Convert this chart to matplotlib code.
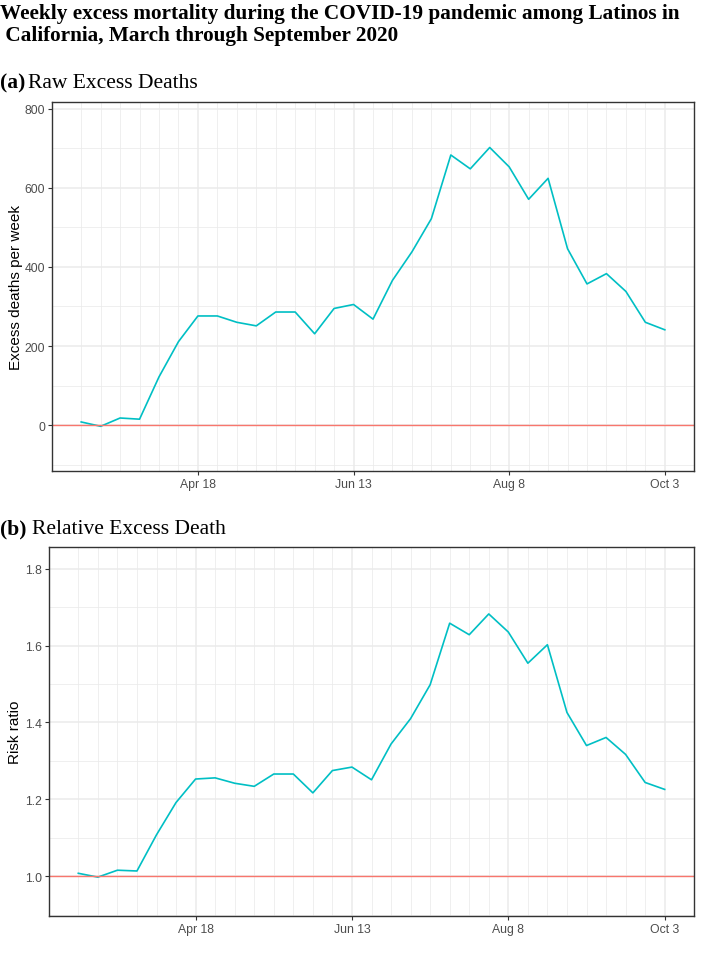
import matplotlib
matplotlib.use("Agg")
import matplotlib.pyplot as plt
import matplotlib.dates as mdates
import numpy as np
import datetime as dt

# ---- data ----
start = dt.date(2020, 3, 7)
weeks = [start + dt.timedelta(days=7 * i) for i in range(31)]

excess_deaths = [8, -3, 18, 15, 122, 211, 276, 276, 260, 251, 286, 286, 231, 295, 305,
                 268, 366, 438, 522, 683, 648, 702, 653, 571, 624, 446, 357, 383, 338, 260, 241]
risk_ratio = [1.008, 0.998, 1.016, 1.014, 1.108, 1.192, 1.253, 1.256, 1.242, 1.234, 1.266,
              1.266, 1.217, 1.275, 1.284, 1.251, 1.344, 1.410, 1.498, 1.658, 1.628, 1.682,
              1.635, 1.554, 1.602, 1.426, 1.340, 1.361, 1.317, 1.244, 1.226]

tick_dates = [dt.date(2020, 4, 18), dt.date(2020, 6, 13), dt.date(2020, 8, 8), dt.date(2020, 10, 3)]
tick_labels = ["Apr 18", "Jun 13", "Aug 8", "Oct 3"]

title_text = ("Weekly excess mortality during the COVID-19 pandemic among Latinos in\n"
              " California, March through September 2020")

W, H = 703, 962
fig = plt.figure(figsize=(W / 100, H / 100), dpi=100)

LINE_C = "#00BFC4"
REF_C = "#F8766D"

def ax_rect(l, t, r, b):
    return [l / W, 1 - b / H, (r - l) / W, (b - t) / H]

def style(ax, ylab, yticks, ylim, yfmt, labelpad):
    x0 = mdates.date2num(weeks[0]); x1 = mdates.date2num(weeks[-1])
    pad = (x1 - x0) * 0.05
    ax.set_xticks([mdates.date2num(d) for d in tick_dates])
    ax.set_xticklabels(tick_labels)
    ax.set_xticks([mdates.date2num(d) for d in weeks], minor=True)
    ax.set_yticks(yticks)
    ax.set_yticklabels([yfmt(v) for v in yticks])
    ystep = yticks[1] - yticks[0]
    minor_y = [yticks[0] - ystep / 2] + [v + ystep / 2 for v in yticks]
    ax.set_yticks(minor_y, minor=True)
    ax.set_xlim(x0 - pad, x1 + pad)
    ax.set_ylim(*ylim)
    ax.grid(True, which="major", color="#EBEBEB", lw=1.1)
    ax.grid(True, which="minor", color="#EBEBEB", lw=0.55)
    ax.set_axisbelow(True)
    for s in ax.spines.values():
        s.set_color("#333333"); s.set_linewidth(1.0)
    ax.tick_params(which="major", length=3, width=0.8, color="#333333",
                   labelcolor="#4D4D4D", labelsize=8.8, pad=2)
    ax.tick_params(which="minor", length=0)
    ax.set_ylabel(ylab, fontsize=11, color="black", labelpad=labelpad)

fig.text(0.0, 1 - 4 / H, title_text, ha="left", va="top", fontsize=15.3,
         fontweight="bold", family="Liberation Serif", linespacing=1.15)

# Panel a
fig.text(0.0, 1 - 83 / H, "(a)", ha="left", va="center", fontsize=15.5,
         fontweight="bold", family="Liberation Serif")
fig.text(28 / W, 1 - 83 / H, "Raw Excess Deaths", ha="left", va="center", fontsize=15.5,
         family="Liberation Serif")
ax1 = fig.add_axes(ax_rect(52, 103, 694, 472))
ax1.plot(mdates.date2num(weeks), excess_deaths, color=LINE_C, lw=1.2)
ax1.axhline(0, color=REF_C, lw=1.0)
style(ax1, "Excess deaths per week", [0, 200, 400, 600, 800], (-116, 817),
      lambda v: f"{v:d}", 1)

# Panel b
fig.text(0.0, 1 - 529 / H, "(b)", ha="left", va="center", fontsize=15.5,
         fontweight="bold", family="Liberation Serif")
fig.text(32 / W, 1 - 529 / H, "Relative Excess Death", ha="left", va="center", fontsize=15.5,
         family="Liberation Serif")
ax2 = fig.add_axes(ax_rect(49, 548, 694, 917))
ax2.plot(mdates.date2num(weeks), risk_ratio, color=LINE_C, lw=1.2)
ax2.axhline(1.0, color=REF_C, lw=1.0)
style(ax2, "Risk ratio", [1.0, 1.2, 1.4, 1.6, 1.8], (0.897, 1.856),
      lambda v: f"{v:.1f}", 2)

for ax in (ax1, ax2):
    for lab in ax.get_xticklabels() + ax.get_yticklabels():
        lab.set_family("Liberation Sans")
    ax.yaxis.label.set_family("Liberation Sans")

fig.savefig("out.png", dpi=100)
